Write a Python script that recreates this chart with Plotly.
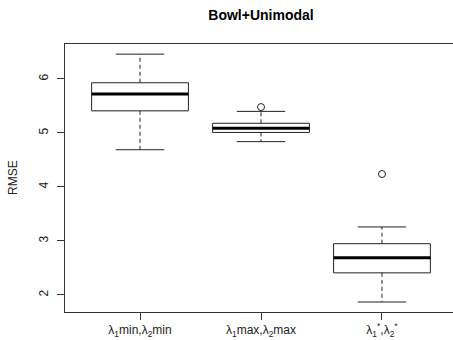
import plotly.graph_objects as go

# ---- data ----
categories = ["λ<sub>1</sub>min,λ<sub>2</sub>min",
              "λ<sub>1</sub>max,λ<sub>2</sub>max",
              "λ<sub>1</sub><sup>*</sup>,λ<sub>2</sub><sup>*</sup>"]
positions = [1, 2, 3]
q1 = [5.41, 5.01, 2.41]
median = [5.72, 5.09, 2.69]
q3 = [5.93, 5.18, 2.95]
lower_whisker = [4.69, 4.84, 1.87]
upper_whisker = [6.46, 5.40, 3.26]
outlier_x = [2, 3]
outlier_y = [5.48, 4.24]
y_ticks = [2, 3, 4, 5, 6]

title = "Bowl+Unimodal"
y_label = "RMSE"

# ---- style ----
box_half = 0.4
cap_half = 0.2
line_col = "#222222"
font_family = "Liberation Sans, Arial, sans-serif"

fig = go.Figure()

for p, a, m, b, lo, hi in zip(positions, q1, median, q3, lower_whisker, upper_whisker):
    # box
    fig.add_trace(go.Scatter(
        x=[p - box_half, p + box_half, p + box_half, p - box_half, p - box_half],
        y=[a, a, b, b, a], mode="lines",
        line=dict(color=line_col, width=1), fill="toself", fillcolor="white",
        hoverinfo="skip", showlegend=False))
    # median
    fig.add_trace(go.Scatter(
        x=[p - box_half, p + box_half], y=[m, m], mode="lines",
        line=dict(color="black", width=3), hoverinfo="skip", showlegend=False))
    # whiskers (dashed)
    fig.add_trace(go.Scatter(
        x=[p, p, None, p, p], y=[b, hi, None, a, lo], mode="lines",
        line=dict(color=line_col, width=1, dash="4px,3px"),
        hoverinfo="skip", showlegend=False))
    # caps
    fig.add_trace(go.Scatter(
        x=[p - cap_half, p + cap_half, None, p - cap_half, p + cap_half],
        y=[hi, hi, None, lo, lo], mode="lines",
        line=dict(color=line_col, width=1), hoverinfo="skip", showlegend=False))

fig.add_trace(go.Scatter(
    x=outlier_x, y=outlier_y, mode="markers",
    marker=dict(symbol="circle-open", size=7, color=line_col, line=dict(width=1)),
    hoverinfo="skip", showlegend=False))

fig.update_layout(
    width=453, height=340,
    margin=dict(l=65, r=0, t=44, b=28),
    paper_bgcolor="white", plot_bgcolor="white",
    font=dict(family=font_family, size=12, color="black"),
    title=dict(text="<b>" + title + "</b>", x=(261) / 453, xanchor="center",
               y=1 - 15 / 340, yanchor="middle",
               font=dict(size=14, family=font_family, color="black")),
    showlegend=False,
)

fig.update_xaxes(
    range=[0.38, 3.587], tickmode="array", tickvals=positions, ticktext=categories,
    showgrid=False, zeroline=False, showline=True, mirror=True,
    linecolor="#333333", linewidth=1, ticks="outside", ticklen=7,
    tickcolor="#333333", tickfont=dict(size=12, color="#222222"))

fig.update_yaxes(
    range=[1.685, 6.648], tickmode="array", tickvals=y_ticks,
    ticktext=[str(v) for v in y_ticks], tickangle=-90, ticklabelstandoff=4,
    showgrid=False, zeroline=False, showline=True, mirror=True,
    linecolor="#333333", linewidth=1, ticks="outside", ticklen=7,
    tickcolor="#333333", tickfont=dict(size=12, color="#222222"))

fig.add_annotation(
    text=y_label, textangle=-90, xref="paper", yref="paper",
    x=(13 - 65) / 388, y=0.5, xanchor="center", yanchor="middle",
    showarrow=False, font=dict(size=12, color="#222222"))

fig.write_html("out.html", config={"displayModeBar": False},
               post_script="document.body.style.margin='0px';")
